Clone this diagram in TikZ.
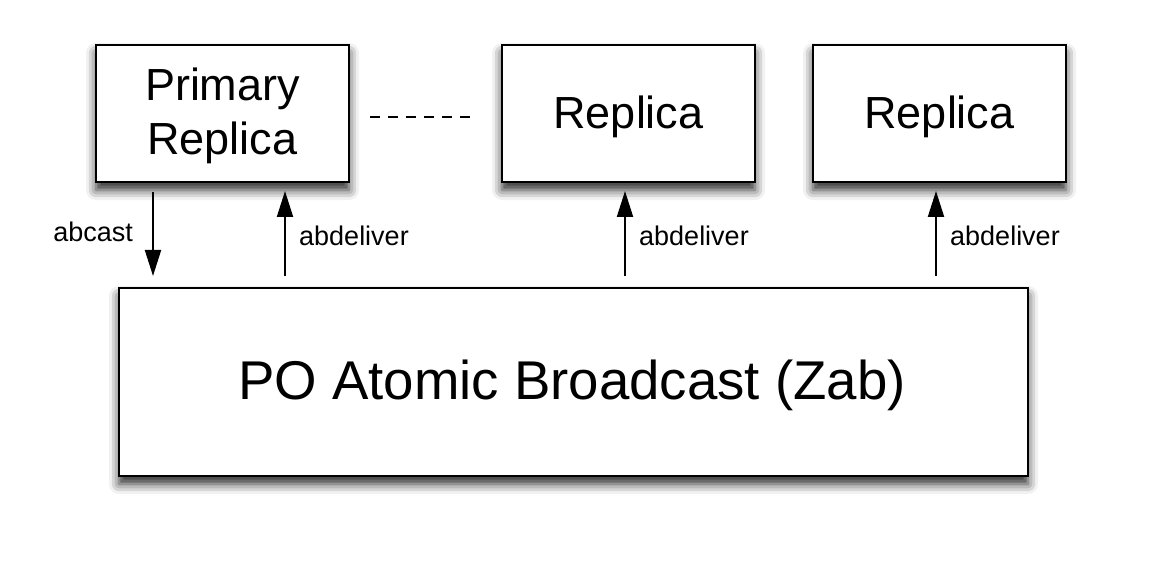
\documentclass[tikz,border=0pt]{standalone}
\usepackage{fontspec}
\setmainfont{Liberation Sans}
\usetikzlibrary{arrows.meta,shadows.blur}
\begin{document}
\begin{tikzpicture}[x=1pt,y=-1pt,
  box/.style={draw=black,line width=2pt,fill=white,rectangle,inner sep=0pt,
    blur shadow={shadow xshift=0pt,shadow yshift=-8pt,shadow blur radius=10pt,shadow opacity=85}},
  boxtext/.style={font=\fontsize{45}{54}\selectfont,align=center},
  conn/.style={line width=2pt,-{Triangle[length=26pt,width=16pt]}},
  lbl/.style={font=\fontsize{27}{32}\selectfont,inner sep=0pt}]
\useasboundingbox (0,0) rectangle (1154,572);
\node[box,minimum width=253pt,minimum height=137pt] (prim) at (222.5,113.5) {};
\node[box,minimum width=253pt,minimum height=137pt] (rep2) at (628.5,113.5) {};
\node[box,minimum width=253pt,minimum height=137pt] (rep3) at (939.5,113.5) {};
\node[box,minimum width=909pt,minimum height=188pt] (zab) at (573.5,382) {};
\node[boxtext] (primt) at (222.5,116) {Primary\\Replica};
\node[boxtext] (rep2t) at (628.5,117) {Replica};
\node[boxtext] (rep3t) at (939.5,117) {Replica};
\node[font=\fontsize{54.6}{60}\selectfont] (zabt) at (572,385) {PO Atomic Broadcast (Zab)};
\coordinate (d1) at (370,117);
\coordinate (d2) at (472,117);
\draw[line width=1.5pt,dash pattern=on 10pt off 8pt] (d1) -- (d2);
\coordinate (c1) at (153,192);
\coordinate (c2) at (153,276);
\draw[conn] (c1) -- (c2);
\node[lbl,anchor=east] (l1) at (133,232) {abcast};
\foreach \x/\n in {285/a,625/b,936/c}{
  \coordinate (s\n) at (\x,276);
  \coordinate (e\n) at (\x,191);
  \draw[conn] (s\n) -- (e\n);
  \node[lbl,anchor=west] (t\n) at (\x+14,236) {abdeliver};
}
\end{tikzpicture}
\end{document}
